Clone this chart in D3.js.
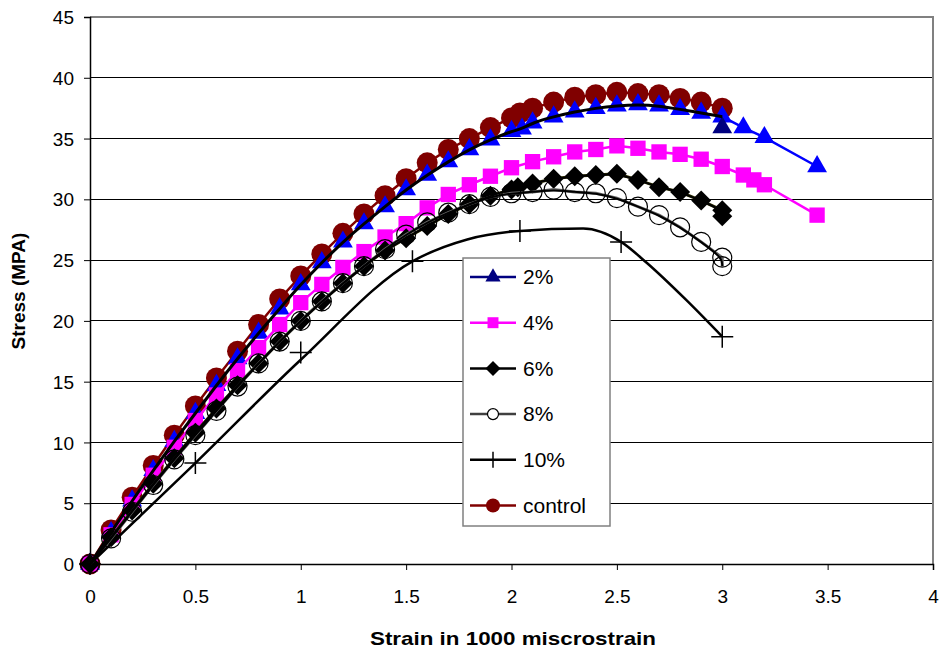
<!DOCTYPE html>
<html><head><meta charset="utf-8">
<script src="https://cdn.jsdelivr.net/npm/d3@7"></script>
<style>body{margin:0;background:#fff}svg{font-family:"Liberation Sans",Arial,sans-serif;display:block}</style>
</head><body><svg id="c" width="942" height="653"></svg>
<script>
const xTicks = [0,0.5,1,1.5,2,2.5,3,3.5,4];
const yTicks = [0,5,10,15,20,25,30,35,40,45];
const legendLabels = ["2%","4%","6%","8%","10%","control"];

const control = [[0,0],[0.1,2.8],[0.2,5.5],[0.3,8.1],[0.4,10.6],[0.5,13.0],[0.6,15.3],[0.7,17.5],[0.8,19.7],[0.9,21.8],[1.0,23.7],[1.1,25.5],[1.2,27.2],[1.3,28.8],[1.4,30.3],[1.5,31.7],[1.6,33.0],[1.7,34.1],[1.8,35.0],[1.9,35.9],[2.0,36.7],[2.04,37.1],[2.1,37.5],[2.2,38.0],[2.3,38.4],[2.4,38.6],[2.5,38.8],[2.6,38.7],[2.7,38.6],[2.8,38.3],[2.9,38.0],[3.0,37.5]];
const pct2 = [[0,0],[0.1,2.6],[0.2,5.2],[0.3,7.7],[0.4,10.1],[0.5,12.4],[0.6,14.7],[0.7,16.9],[0.8,19.0],[0.9,21.0],[1.0,23.0],[1.1,24.8],[1.2,26.5],[1.3,28.0],[1.4,29.4],[1.5,30.8],[1.6,32.0],[1.7,33.1],[1.8,34.1],[1.9,34.9],[2.0,35.6],[2.05,35.8],[2.1,36.3],[2.2,36.8],[2.3,37.2],[2.4,37.5],[2.5,37.7],[2.6,37.8],[2.7,37.7],[2.8,37.4],[2.9,37.1],[3.0,36.8],[3.1,35.9],[3.2,35.1],[3.45,32.7]];
const pct2End = [3.0,35.9];
const pct4 = [[0,0],[0.1,2.4],[0.2,4.9],[0.3,7.3],[0.4,9.6],[0.5,11.8],[0.6,13.9],[0.7,15.9],[0.8,17.8],[0.9,19.7],[1.0,21.5],[1.1,23.0],[1.2,24.4],[1.3,25.7],[1.4,26.9],[1.5,28.0],[1.6,29.3],[1.7,30.4],[1.8,31.2],[1.9,31.9],[2.0,32.6],[2.1,33.1],[2.2,33.5],[2.3,33.9],[2.4,34.1],[2.5,34.4],[2.6,34.2],[2.7,33.9],[2.8,33.7],[2.9,33.3],[3.0,32.7],[3.1,32.0],[3.15,31.6],[3.2,31.2],[3.45,28.7]];
const pct6 = [[0,0],[0.1,2.2],[0.2,4.4],[0.3,6.6],[0.4,8.7],[0.5,10.8],[0.6,12.8],[0.7,14.7],[0.8,16.5],[0.9,18.3],[1.0,20.0],[1.1,21.6],[1.2,23.1],[1.3,24.5],[1.4,25.8],[1.5,26.8],[1.6,27.8],[1.7,28.8],[1.8,29.6],[1.9,30.3],[2.0,30.8],[2.03,31.0],[2.1,31.3],[2.2,31.7],[2.3,31.9],[2.4,32.0],[2.5,32.1],[2.6,31.6],[2.7,31.0],[2.8,30.6],[2.9,29.9],[3.0,29.1],[3.0,28.6]];
const pct8 = [[0,0],[0.1,2.1],[0.2,4.3],[0.3,6.5],[0.4,8.6],[0.5,10.6],[0.6,12.6],[0.7,14.6],[0.8,16.5],[0.9,18.3],[1.0,20.0],[1.1,21.6],[1.2,23.1],[1.3,24.5],[1.4,25.9],[1.5,27.1],[1.6,28.1],[1.7,28.9],[1.8,29.6],[1.9,30.2],[2.0,30.5],[2.1,30.6],[2.2,30.8],[2.3,30.6],[2.4,30.5],[2.5,30.1],[2.6,29.4],[2.7,28.7],[2.8,27.7],[2.9,26.5],[3.0,25.2],[3.0,24.5]];
const pct10Line = [[0,0],[0.5,8.3],[1.0,16.8],[1.53,24.9],[1.79,26.7],[2.04,27.4],[2.34,27.6],[2.52,26.5],[2.64,24.8],[2.83,21.7],[3.0,18.7]];
const pct10Marks = [[0,0],[0.5,8.3],[1.0,17.4],[1.53,24.9],[2.04,27.4],[2.52,26.5],[3.0,18.7]];

const svg = d3.select("#c");
const x = d3.scaleLinear().domain([0,4]).range([90,933]);
const y = d3.scaleLinear().domain([0,45]).range([564,17]);

svg.append("g").selectAll("line").data(yTicks.filter(v=>v>0&&v<45)).join("line")
  .attr("x1",x(0)).attr("x2",x(4)).attr("y1",d=>y(d)).attr("y2",d=>y(d))
  .attr("stroke","#000").attr("stroke-width",1).attr("shape-rendering","crispEdges");
svg.append("path").attr("d",`M${x(0)},${y(45)}H${x(4)}V${y(0)}`).attr("fill","none")
  .attr("stroke","#808080").attr("stroke-width",1.5).attr("shape-rendering","crispEdges");

const yAxis = d3.axisLeft(y).tickValues(yTicks).tickSize(6).tickFormat(d3.format("d"));
const gy = svg.append("g").attr("transform",`translate(${x(0)},0)`).call(yAxis);
const xAxis = d3.axisBottom(x).tickValues(xTicks).tickSize(6).tickFormat(d=>String(d));
const gx = svg.append("g").attr("transform",`translate(0,${y(0)})`).call(xAxis);
[gx,gy].forEach(g=>{
  g.select(".domain").attr("stroke","#000").attr("stroke-width",1.5);
  g.selectAll(".tick line").attr("stroke","#000").attr("stroke-width",1);
  g.selectAll("text").attr("font-size",19).attr("fill","#000").attr("font-family","Liberation Sans, Arial, sans-serif");
});
gy.selectAll("text").attr("x",-16).attr("dy","0.35em");
gx.selectAll("text").attr("y",26);

svg.append("text").attr("transform",`translate(25,291) rotate(-90)`).attr("text-anchor","middle")
  .attr("font-size",19).attr("font-weight","bold").text("Stress (MPA)");
svg.append("text").attr("x",513).attr("y",645).attr("text-anchor","middle")
  .attr("font-size",19).attr("font-weight","bold")
  .attr("textLength",286).attr("lengthAdjust","spacingAndGlyphs").text("Strain in 1000 miscrostrain");

const lin = d3.line().x(d=>x(d[0])).y(d=>y(d[1]));
const smooth = d3.line().x(d=>x(d[0])).y(d=>y(d[1])).curve(d3.curveBasis);
const mono = d3.line().x(d=>x(d[0])).y(d=>y(d[1])).curve(d3.curveMonotoneX);

const sym = {
  tri: d3.symbol().type(d3.symbolTriangle).size(170)(),
  sq: d3.symbol().type(d3.symbolSquare).size(235)(),
  dia: "M0,-10L10,0L0,10L-10,0Z",
  plus: "M-11,0H11M0,-11V11"
};
const g = svg.append("g");
function marks(data, path, fill, stroke, sw){
  g.append("g").selectAll("path").data(data).join("path")
    .attr("transform",d=>`translate(${x(d[0])},${y(d[1])})`)
    .attr("d",path).attr("fill",fill).attr("stroke",stroke||"none").attr("stroke-width",sw||0);
}
function circles(data, r, fill, stroke, sw){
  g.append("g").selectAll("circle").data(data).join("circle")
    .attr("cx",d=>x(d[0])).attr("cy",d=>y(d[1])).attr("r",r)
    .attr("fill",fill).attr("stroke",stroke||"none").attr("stroke-width",sw||0);
}
g.append("path").attr("d",lin(control)).attr("fill","none").attr("stroke","#800000").attr("stroke-width",2.5);
circles(control,10.5,"#800000");
g.append("path").attr("d",lin(pct2.filter(d=>d[0]>=3))).attr("fill","none").attr("stroke","#0000ff").attr("stroke-width",2.5);
marks(pct2, sym.tri, "#0000ff");
marks([pct2End], sym.tri, "#000080");
g.append("path").attr("d",lin(pct4)).attr("fill","none").attr("stroke","#ff00ff").attr("stroke-width",2.5);
marks(pct4, sym.sq, "#ff00ff");
g.append("path").attr("d",lin(pct6)).attr("fill","none").attr("stroke","#333300").attr("stroke-width",3);
marks(pct6, sym.dia, "#000");
g.append("path").attr("d",lin(pct8)).attr("fill","none").attr("stroke","#666666").attr("stroke-width",3);
circles(pct8,9.5,"none","#000",1.2);
g.append("path").attr("d",smooth(pct2.filter(d=>d[0]<=3.0))).attr("fill","none").attr("stroke","#000").attr("stroke-width",3);
g.append("path").attr("d",smooth(pct6)).attr("fill","none").attr("stroke","#000").attr("stroke-width",2);
g.append("path").attr("d",smooth(pct8)).attr("fill","none").attr("stroke","#000").attr("stroke-width",2);
g.append("path").attr("d",mono(pct10Line)).attr("fill","none").attr("stroke","#000").attr("stroke-width",2.5);
marks(pct10Marks, sym.plus, "none", "#000", 1.5);

const lg = svg.append("g").attr("transform","translate(463,258)");
lg.append("rect").attr("x",0).attr("y",0).attr("width",147).attr("height",268)
  .attr("fill","#fff").attr("stroke","#808080").attr("stroke-width",1.5);
const legStyles = [
  {c:"#000080", m:"tri"},
  {c:"#ff00ff", m:"sq"},
  {c:"#000000", m:"dia"},
  {c:"#404040", m:"circ"},
  {c:"#000000", m:"plus"},
  {c:"#800000", m:"dot"}
];
legendLabels.forEach((lab,i)=>{
  const cy = 19 + i*45.7;
  const row = lg.append("g").attr("transform",`translate(0,${cy})`);
  row.append("line").attr("x1",7).attr("x2",53).attr("y1",0).attr("y2",0)
    .attr("stroke",legStyles[i].c).attr("stroke-width",2.5);
  const m = legStyles[i].m;
  if (m==="tri") row.append("path").attr("d",d3.symbol().type(d3.symbolTriangle).size(100)()).attr("transform","translate(30,0)").attr("fill","#000080");
  if (m==="sq") row.append("path").attr("d",d3.symbol().type(d3.symbolSquare).size(120)()).attr("transform","translate(30,0)").attr("fill","#ff00ff");
  if (m==="dia") row.append("path").attr("d","M0,-7.5L7.5,0L0,7.5L-7.5,0Z").attr("transform","translate(30,0)").attr("fill","#000");
  if (m==="circ") row.append("circle").attr("cx",30).attr("cy",0).attr("r",5.5).attr("fill","#fff").attr("stroke","#000").attr("stroke-width",1.2);
  if (m==="plus") row.append("path").attr("d","M0,-8V8").attr("transform","translate(30,0)").attr("stroke","#000").attr("stroke-width",1.5);
  if (m==="dot") row.append("circle").attr("cx",30).attr("cy",0).attr("r",7).attr("fill","#800000");
  row.append("text").attr("x",60).attr("y",0).attr("dy","0.35em").attr("font-size",21).text(lab);
});
</script></body></html>
